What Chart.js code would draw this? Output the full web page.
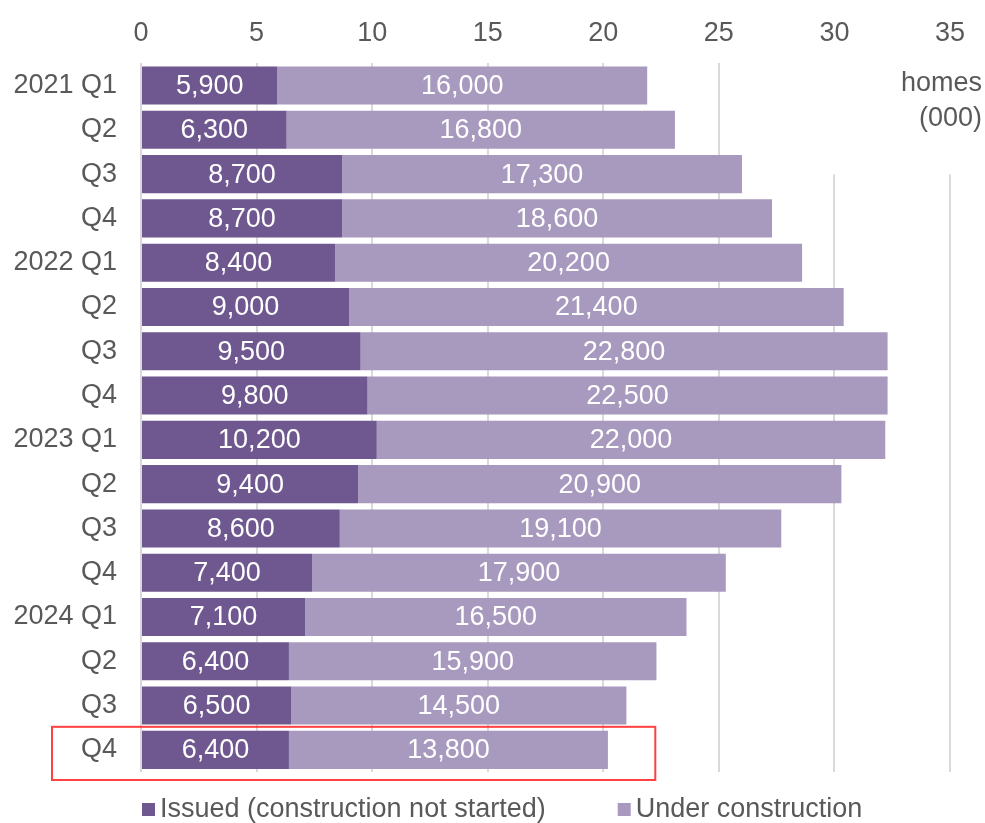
<!DOCTYPE html>
<html>
<head>
<meta charset="utf-8">
<script src="https://cdn.jsdelivr.net/npm/chart.js@4"></script>
<style>
  html, body { margin: 0; padding: 0; background: #fff; }
  #wrap { width: 985px; height: 823px; }
</style>
</head>
<body>
<div id="wrap"><canvas id="homesChart"></canvas></div>
<script>
// quarters, oldest at top
const quarters = ["2021 Q1", "Q2", "Q3", "Q4", "2022 Q1", "Q2", "Q3", "Q4",
                  "2023 Q1", "Q2", "Q3", "Q4", "2024 Q1", "Q2", "Q3", "Q4"];
// thousands of homes
const issued = [5.9, 6.3, 8.7, 8.7, 8.4, 9.0, 9.5, 9.8, 10.2, 9.4, 8.6, 7.4, 7.1, 6.4, 6.5, 6.4];
const underConstruction = [16.0, 16.8, 17.3, 18.6, 20.2, 21.4, 22.8, 22.5, 22.0, 20.9, 19.1, 17.9, 16.5, 15.9, 14.5, 13.8];
const axisTicks = [0, 5, 10, 15, 20, 25, 30, 35];
const unitLines = ["homes", "(000)"];
const highlightIndex = 15;

const FONT = "'Liberation Sans', Arial, sans-serif";
const SIZE = 27;
const GREY = '#595959';

// white numbers inside each bar segment
const valueLabels = {
    id: 'valueLabels',
    afterDatasetsDraw(chart) {
        const ctx = chart.ctx;
        ctx.save();
        ctx.font = SIZE + 'px ' + FONT;
        ctx.fillStyle = '#ffffff';
        ctx.textAlign = 'center';
        ctx.textBaseline = 'middle';
        chart.data.datasets.forEach((ds, di) => {
            chart.getDatasetMeta(di).data.forEach((bar, i) => {
                const txt = Math.round(ds.data[i] * 1000).toLocaleString('en-US');
                ctx.fillText(txt, (bar.x + bar.base) / 2, bar.y + 1);
            });
        });
        ctx.restore();
    }
};

// "homes (000)" on a white patch over the top right gridlines
const unitLabel = {
    id: 'unitLabel',
    beforeDatasetsDraw(chart) {
        const ctx = chart.ctx;
        const area = chart.chartArea;
        ctx.save();
        ctx.fillStyle = '#ffffff';
        ctx.fillRect(area.right - 160, area.top - 2, chart.width, 113);
        ctx.font = SIZE + 'px ' + FONT;
        ctx.fillStyle = GREY;
        ctx.textAlign = 'right';
        ctx.textBaseline = 'middle';
        unitLines.forEach((t, i) => ctx.fillText(t, chart.width - 3, area.top + 20 + i * 35));
        ctx.restore();
    }
};

// red box round the latest quarter + legend underneath
const extras = {
    id: 'extras',
    afterDraw(chart) {
        const ctx = chart.ctx;
        const x = chart.scales.x, y = chart.scales.y;
        const cy = y.getPixelForValue(highlightIndex);
        const step = y.height / quarters.length;
        const left = 52;
        const right = x.getPixelForValue(22.25);
        ctx.save();
        ctx.strokeStyle = 'rgba(255, 30, 30, 0.85)';
        ctx.lineWidth = 2;
        ctx.strokeRect(left, cy - step * 0.52, right - left, step * 1.2);

        // legend
        ctx.font = SIZE + 'px ' + FONT;
        ctx.textBaseline = 'middle';
        ctx.textAlign = 'left';
        let lx = chart.chartArea.left + 1;
        const ly = chart.height - 13;
        chart.data.datasets.forEach(ds => {
            ctx.fillStyle = ds.backgroundColor;
            ctx.fillRect(lx, ly - 7, 13, 13);
            ctx.fillStyle = GREY;
            ctx.fillText(ds.label, lx + 18, ly);
            lx += 18 + ctx.measureText(ds.label).width + 72;
        });
        ctx.restore();
    }
};

new Chart(document.getElementById('homesChart'), {
    type: 'bar',
    data: {
        labels: quarters,
        datasets: [
            {
                label: 'Issued (construction not started)',
                data: issued,
                backgroundColor: '#6f588f',
                categoryPercentage: 1,
                barPercentage: 0.86
            },
            {
                label: 'Under construction',
                data: underConstruction,
                backgroundColor: '#a899bf',
                categoryPercentage: 1,
                barPercentage: 0.86
            }
        ]
    },
    options: {
        indexAxis: 'y',
        responsive: true,
        maintainAspectRatio: false,
        animation: false,
        layout: { padding: { left: 10, right: 35, top: 3, bottom: 51 } },
        plugins: {
            legend: { display: false },
            tooltip: { enabled: false }
        },
        scales: {
            x: {
                position: 'top',
                stacked: true,
                min: 0,
                max: 35,
                afterBuildTicks(scale) {
                    scale.ticks = axisTicks.map(v => ({ value: v }));
                },
                grid: { color: '#d9d9d9', lineWidth: 2, drawTicks: false },
                border: { display: false },
                ticks: {
                    color: GREY,
                    font: { family: FONT, size: SIZE },
                    padding: 14,
                    maxRotation: 0
                }
            },
            y: {
                stacked: true,
                afterFit(scale) { scale.width = 131; },
                grid: { display: false, drawTicks: false },
                border: { display: false },
                ticks: {
                    color: GREY,
                    font: { family: FONT, size: SIZE },
                    padding: 24,
                    autoSkip: false
                }
            }
        }
    },
    plugins: [unitLabel, valueLabels, extras]
});
</script>
</body>
</html>
